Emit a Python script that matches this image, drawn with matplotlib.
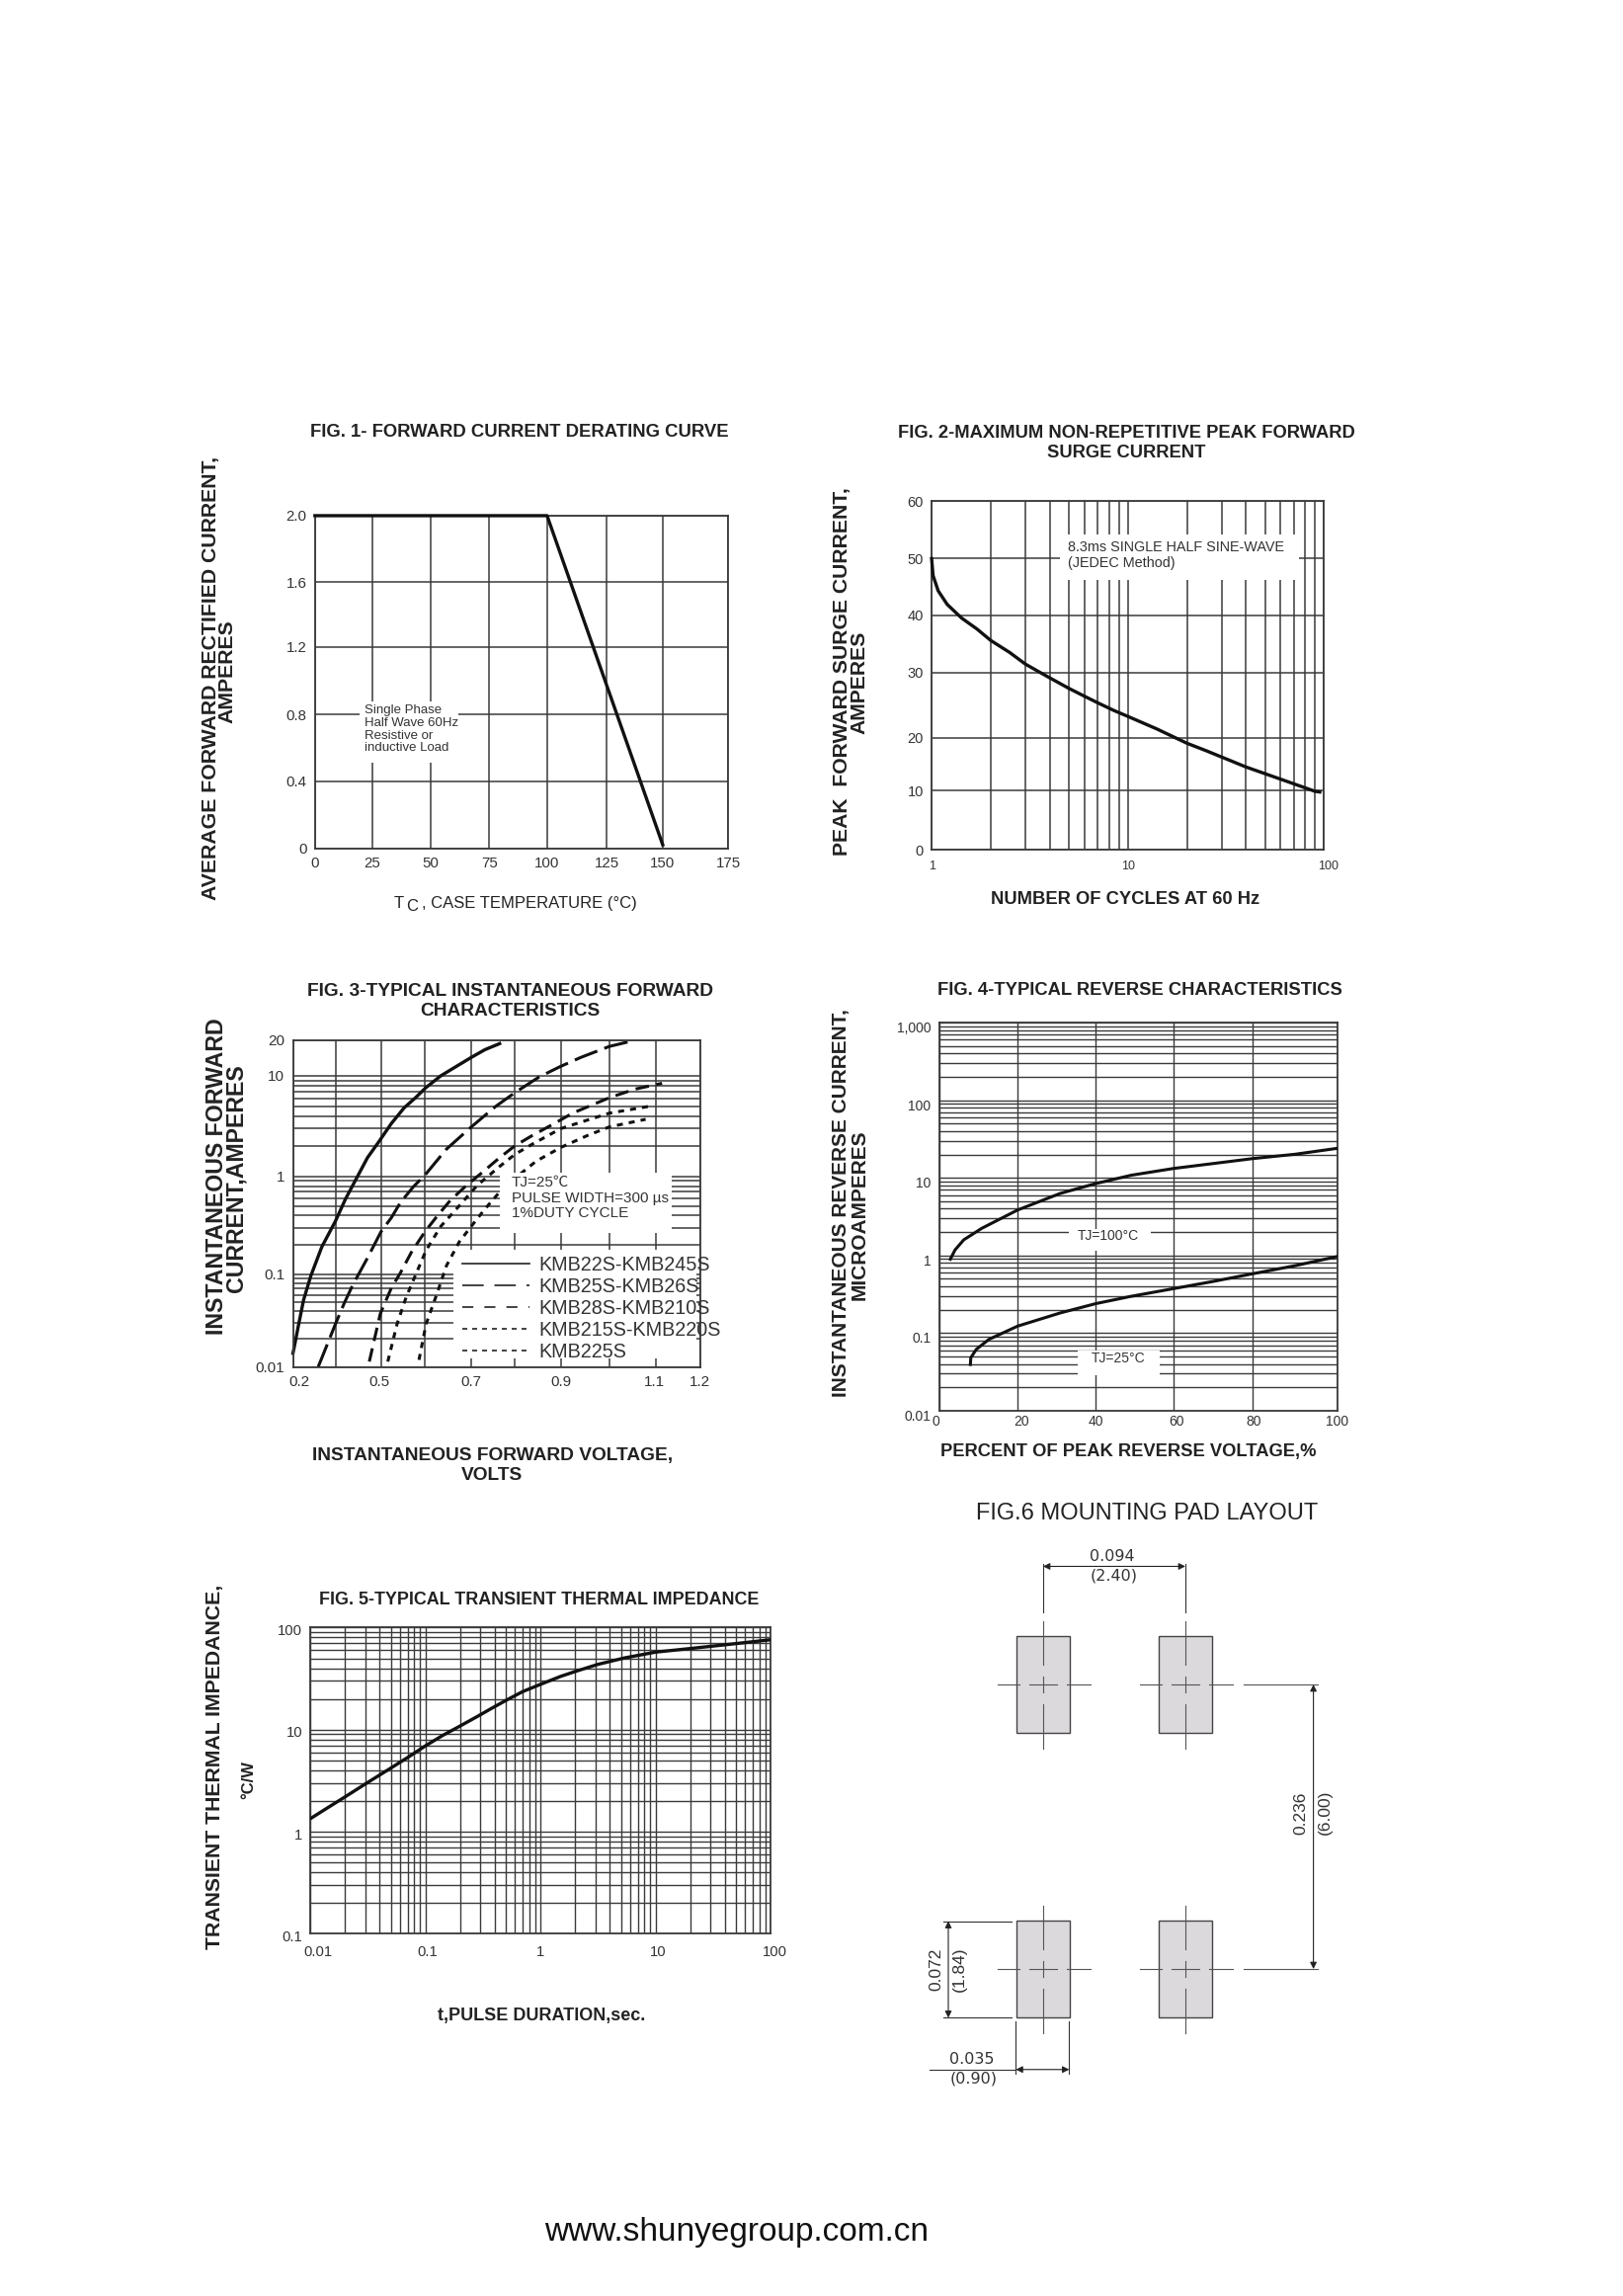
import numpy as np
import matplotlib
matplotlib.use('Agg')
import matplotlib.pyplot as plt
from matplotlib.lines import Line2D
from matplotlib.patches import Rectangle
from matplotlib.transforms import ScaledTranslation

plt.rcParams['font.family'] = ['Liberation Sans', 'Noto Sans CJK SC', 'DejaVu Sans']

W, H = 1643, 2324
S = 1643 / 1108  # layout below was measured on a 1108 wide view

INK = '#222222'
GRID = '#3a3a3a'

# fig 1
f1_x = [0, 100, 150]
f1_y = [2.0, 2.0, 0.02]
f1_xticks = [0, 25, 50, 75, 100, 125, 150, 175]
f1_xpos = [366, 517, 671, 826, 978, 1135, 1283, 1455]
f1_yticks = [0, 0.4, 0.8, 1.2, 1.6, 2.0]
f1_ypos = [1333, 1137, 941, 742, 553, 358]
f1_ylabels = ['0', '0.4', '0.8', '1.2', '1.6', '2.0']

# fig 2
f2_x = [1, 1.017, 1.08, 1.2, 1.42, 1.7, 2, 2.5, 3, 3.5, 4, 5, 6, 7, 8.5, 10, 14, 20, 25, 30, 40, 60, 90, 95]
f2_y = [50, 47, 44.3, 41.9, 39.5, 37.6, 35.6, 33.5, 31.5, 30.2, 29.2, 27.6, 26.4, 25.4, 24.2, 23.3, 21.4, 19, 17.6, 16.4, 14.5, 12.2, 9.9, 9.8]
f2_yticks = [0, 10, 20, 30, 40, 50, 60]
f2_ypos = [1340, 1166, 1010, 817, 647, 480, 310]

# fig 3
f3_xticks = [0.2, 0.4, 0.5, 0.6, 0.7, 0.8, 0.9, 1.0, 1.1, 1.2]
f3_xpos = [316, 432, 557, 677, 803, 922, 1048, 1180, 1307, 1428]
f3_xlabels = ['0.2', '', '0.5', '', '0.7', '', '0.9', '', '1.1', '1.2']
f3_yticks = [0.01, 0.1, 1, 10, 20]
f3_ypos = [1165, 895, 610, 316, 212]
f3_ylabels = ['0.01', '0.1', '1', '10', '20']
f3_a_x = [0.2, 0.21, 0.224, 0.25, 0.284, 0.336, 0.4, 0.422, 0.446, 0.47, 0.494, 0.523, 0.552, 0.578, 0.602, 0.634, 0.666, 0.7, 0.731, 0.765]
f3_a_y = [0.014, 0.0182, 0.0267, 0.0528, 0.096, 0.191, 0.35, 0.59, 0.96, 1.54, 2.19, 3.36, 4.8, 6.06, 7.66, 10, 11.9, 14.3, 16.6, 18.7]
f3_b_x = [0.319, 0.4, 0.419, 0.438, 0.469, 0.5, 0.523, 0.544, 0.573, 0.6, 0.646, 0.7, 0.756, 0.8, 0.852, 0.897, 0.941, 1.0, 1.047]
f3_b_y = [0.01, 0.029, 0.0484, 0.077, 0.144, 0.275, 0.379, 0.545, 0.785, 1.04, 1.87, 3.11, 4.97, 6.8, 9.7, 11.9, 14.3, 17.7, 19.6]
f3_c_x = [0.474, 0.498, 0.523, 0.544, 0.569, 0.6, 0.626, 0.654, 0.69, 0.723, 0.765, 0.8, 0.838, 0.886, 0.924, 1.0, 1.055, 1.114]
f3_c_y = [0.0114, 0.0375, 0.071, 0.104, 0.169, 0.275, 0.394, 0.567, 0.816, 1.08, 1.54, 2.02, 2.56, 3.37, 4.26, 6.06, 7.37, 8.42]
f3_d_x = [0.515, 0.536, 0.557, 0.582, 0.602, 0.634, 0.674, 0.714, 0.765, 0.8, 0.838, 0.9, 0.955, 1.0, 1.086]
f3_d_y = [0.0114, 0.029, 0.057, 0.108, 0.176, 0.31, 0.503, 0.816, 1.26, 1.66, 2.1, 3.0, 3.64, 4.26, 4.98]
f3_e_x = [0.586, 0.602, 0.626, 0.646, 0.674, 0.7, 0.731, 0.765, 0.8, 0.846, 0.9, 0.955, 1.0, 1.078]
f3_e_y = [0.0119, 0.029, 0.0625, 0.122, 0.215, 0.31, 0.464, 0.695, 0.96, 1.42, 1.95, 2.56, 3.11, 3.7]
f3_names = ['KMB22S-KMB245S', 'KMB25S-KMB26S', 'KMB28S-KMB210S', 'KMB215S-KMB220S', 'KMB225S']

# fig 4
f4_xticks = [0, 20, 40, 60, 80, 100]
f4_xpos = [340, 561, 781, 999, 1222, 1460]
f4_yticks = [0.01, 0.1, 1, 10, 100, 1000]
f4_ylabels = ['0.01', '0.1', '1', '10', '100', '1,000']
f4_hot_x = [2.9, 4.1, 6.3, 10.9, 20, 30.9, 40, 49.1, 60, 70.1, 80, 89.9, 100]
f4_hot_y = [0.897, 1.18, 1.59, 2.24, 3.85, 6.3, 8.45, 10.8, 13.2, 15.3, 17.7, 20.1, 24]
f4_cold_x = [8, 8.1, 9.5, 12.7, 20, 30.9, 40, 49.1, 60, 70.1, 80, 89.9, 100]
f4_cold_y = [0.0395, 0.0482, 0.0618, 0.083, 0.123, 0.182, 0.24, 0.298, 0.374, 0.464, 0.582, 0.737, 0.97]

# fig 5
f5_x = [0.0102, 0.014, 0.0199, 0.025, 0.031, 0.04, 0.0497, 0.07, 0.1, 0.14, 0.204, 0.28, 0.38, 0.52, 0.7, 1.0, 1.5, 2.1, 3.15, 5.4, 10, 20.4, 41, 100]
f5_y = [1.365, 1.71, 2.19, 2.58, 3.01, 3.6, 4.19, 5.34, 6.95, 8.74, 11.0, 13.4, 16.3, 19.8, 23.6, 27.8, 33.3, 37.8, 43.6, 50.5, 57.5, 62.5, 68, 76]
f5_xticks = [0.01, 0.1, 1, 10, 100]
f5_xlabels = ['0.01', '0.1', '1', '10', '100']
f5_yticks = [0.1, 1, 10, 100]
f5_ylabels = ['0.1', '1', '10', '100']

# fig 6, sizes in mm
pad_w = 0.90
pad_h = 2.04
pitch_x = 2.40
pitch_y = 6.00


def minors(decades):
    return [m * d for d in decades for m in range(2, 10)]


def warp(ax, axis, vals, pos, log=False):
    # the printed grids are hand drawn, so the scale follows the measured lines
    vals = np.array(vals, dtype=float)
    pos = np.array(pos, dtype=float)
    if axis == 'y':
        pos = -pos
    tv = np.log10(vals) if log else vals

    def forward(v):
        v = np.asarray(v, dtype=float)
        if log:
            v = np.log10(np.clip(v, 1e-6, None))
        return np.interp(v, tv, pos)

    def inverse(p):
        r = np.interp(p, pos, tv)
        return 10 ** r if log else r

    if axis == 'x':
        ax.set_xscale('function', functions=(forward, inverse))
        ax.set_xlim(vals[0], vals[-1])
    else:
        ax.set_yscale('function', functions=(forward, inverse))
        ax.set_ylim(vals[0], vals[-1])


def panel(l, t, r, b, fs=10.5, lw=1.1):
    ax = fig.add_axes([l * S / W, 1 - b * S / H, (r - l) * S / W, (b - t) * S / H])
    ax.set_axisbelow(True)
    ax.grid(True, which='both', color=GRID, lw=lw)
    ax.tick_params(which='both', length=0, labelsize=fs, labelcolor='#333333', pad=6)
    for sp in ax.spines.values():
        sp.set_linewidth(1.3)
        sp.set_color(GRID)
    return ax


def mask(ax, x0, y0, x1, y1, z=1):
    ax.add_patch(Rectangle((x0, y0), x1 - x0, y1 - y0, transform=ax.transAxes,
                           fc='white', ec='none', zorder=z))


def nudge(labels, dx=0, dy=0):
    # labels in the scan sit a little off their grid lines, dy is downward
    dxs = dx if isinstance(dx, (list, tuple)) else [dx] * len(labels)
    for t, d in zip(labels, dxs):
        t.set_transform(t.get_transform() + ScaledTranslation(d * S / 100, -dy * S / 100, fig.dpi_scale_trans))


def label(x, y, s, size=13.2, weight='bold', rot=0, ha='center', color=INK, **kw):
    return fig.text(x * S / W, 1 - y * S / H, s, fontsize=size, fontweight=weight, rotation=rot,
                    ha=ha, va='center', color=color, **kw)


fig = plt.figure(figsize=(W / 100, H / 100), dpi=100, facecolor='white')

# FIG 1
ax = panel(215, 352, 497, 579, fs=10.8)
warp(ax, 'x', f1_xticks, f1_xpos)
warp(ax, 'y', f1_yticks, f1_ypos)
ax.set_xticks(f1_xticks)
ax.set_yticks(f1_yticks, f1_ylabels)
ax.set_xticks([], minor=True)
ax.set_yticks([], minor=True)
ax.plot(f1_x, f1_y, color='#111111', lw=2.4, clip_on=False, zorder=3)
mask(ax, 0.109, 0.256, 0.348, 0.441)
ax.text(0.12, 0.432, 'Single Phase\nHalf Wave 60Hz\nResistive or\ninductive Load', transform=ax.transAxes,
        fontsize=9.5, color='#333333', va='top', ha='left', linespacing=1.08, zorder=4)
label(354.5, 295, 'FIG. 1- FORWARD CURRENT DERATING CURVE', size=13.3)
label(144, 463, 'AVERAGE FORWARD RECTIFIED CURRENT,', size=15.3, rot=90)
label(155, 458, 'AMPERES', size=15.3, rot=90)
label(272, 617, 'T', size=12, weight='normal')
label(281, 619, 'C', size=12, weight='normal')
label(288, 617, ', CASE TEMPERATURE (°C)', size=12, weight='normal', ha='left')

# FIG 2
ax = panel(636, 342, 904, 580, fs=9)
ax.set_xscale('log')
ax.set_xlim(1, 100)
warp(ax, 'y', f2_yticks, f2_ypos)
ax.set_xticks([1, 10, 100], ['1', '10', '100'])
ax.set_xticks(minors([1, 10]), minor=True)
ax.tick_params(axis='x', which='minor', labelbottom=False)
ax.set_yticks(f2_yticks)
ax.set_yticks([], minor=True)
ax.tick_params(axis='y', labelsize=10.5)
ax.plot(f2_x, f2_y, color='#111111', lw=2.4, clip_on=False, zorder=3)
mask(ax, 0.328, 0.774, 0.935, 0.903)
ax.text(0.348, 0.845, '8.3ms SINGLE HALF SINE-WAVE\n(JEDEC Method)', transform=ax.transAxes,
        fontsize=10.4, color='#333333', va='center', ha='left', linespacing=1.2, zorder=4)
nudge(ax.get_xticklabels(), dx=[0, 0, 3], dy=1.5)
label(769, 296, 'FIG. 2-MAXIMUM NON-REPETITIVE PEAK FORWARD', size=13.2)
label(769, 309, 'SURGE CURRENT', size=13.2)
label(575, 458, 'PEAK  FORWARD SURGE CURRENT,', size=15.2, rot=90)
label(587, 466, 'AMPERES', size=15.2, rot=90)
label(768, 614, 'NUMBER OF CYCLES AT 60 Hz', size=13.2)

# FIG 3
ax = panel(200, 710, 478, 933, fs=11)
warp(ax, 'x', f3_xticks, f3_xpos)
warp(ax, 'y', f3_yticks, f3_ypos, log=True)
ax.set_xticks(f3_xticks, f3_xlabels)
ax.set_xticks([], minor=True)
ax.set_yticks(f3_yticks, f3_ylabels)
ax.set_yticks(minors([0.01, 0.1, 1]), minor=True)
ax.tick_params(axis='y', which='minor', labelleft=False)
mask(ax, 0.395, 0.026, 0.99, 0.357)
ax.plot(f3_a_x, f3_a_y, color='#111111', lw=2.4, clip_on=False, zorder=2)
ax.plot(f3_b_x, f3_b_y, color='#111111', lw=2.2, dashes=(8, 2.5), zorder=2)
ax.plot(f3_c_x, f3_c_y, color='#111111', lw=2.2, dashes=(4.5, 2.5), zorder=2)
ax.plot(f3_d_x, f3_d_y, color='#111111', lw=2.2, dashes=(2, 2), zorder=2)
ax.plot(f3_e_x, f3_e_y, color='#111111', lw=2.2, dashes=(2, 2), zorder=2)
mask(ax, 0.509, 0.409, 0.93, 0.593, z=3)
ax.text(0.536, 0.585, 'TJ=25℃\nPULSE WIDTH=300 µs\n1%DUTY CYCLE', transform=ax.transAxes,
        fontsize=11, color='#333333', va='top', ha='left', linespacing=1.15, zorder=4)
handles = [Line2D([], [], color='#222222', lw=1.2),
           Line2D([], [], color='#222222', lw=1.2, dashes=(13, 6.5)),
           Line2D([], [], color='#222222', lw=1.2, dashes=(6.7, 6.7)),
           Line2D([], [], color='#222222', lw=1.2, dashes=(3, 3)),
           Line2D([], [], color='#222222', lw=1.2, dashes=(3, 3))]
leg = ax.legend(handles, f3_names, loc='upper left', bbox_to_anchor=(0.417, 0.341), frameon=False, fontsize=14.2,
                handlelength=3.4, handletextpad=0.5, borderpad=0, borderaxespad=0, labelspacing=0.15, labelcolor='#333333')
nudge(ax.get_xticklabels(), dx=[4, 0, -1, 0, 0, 0, 0, 0, -1, 0])
label(348.5, 677, 'FIG. 3-TYPICAL INSTANTANEOUS FORWARD', size=13.8)
label(348.5, 690, 'CHARACTERISTICS', size=13.8)
label(148, 803, 'INSTANTANEOUS FORWARD', size=16.7, rot=90)
label(161, 804, 'CURRENT,AMPERES', size=16.7, rot=90)
label(336, 994, 'INSTANTANEOUS FORWARD VOLTAGE,', size=13.8)
label(336, 1007, 'VOLTS', size=13.8)

# FIG 4
ax = panel(641, 698, 913, 963, fs=10, lw=1.0)
warp(ax, 'x', f4_xticks, f4_xpos)
ax.set_yscale('log')
ax.set_ylim(0.01, 1000)
ax.set_xticks(f4_xticks)
ax.set_xticks([], minor=True)
ax.set_yticks(f4_yticks, f4_ylabels)
ax.set_yticks(minors([0.01, 0.1, 1, 10, 100]), minor=True)
ax.tick_params(axis='y', which='minor', labelleft=False)
ax.plot(f4_hot_x, f4_hot_y, color='#111111', lw=2.2, zorder=3)
ax.plot(f4_cold_x, f4_cold_y, color='#111111', lw=2.2, zorder=3)
mask(ax, 0.326, 0.412, 0.531, 0.468)
mask(ax, 0.348, 0.0915, 0.554, 0.156)
ax.text(0.424, 0.45, 'TJ=100°C', transform=ax.transAxes, fontsize=10, color='#333333', va='center', ha='center', zorder=4)
ax.text(0.449, 0.135, 'TJ=25°C', transform=ax.transAxes, fontsize=10, color='#333333', va='center', ha='center', zorder=4)
nudge(ax.get_yticklabels(), dy=3)
nudge(ax.get_xticklabels(), dx=[-2, 3, 0, 2, 1, 0], dy=-3)
label(778, 676, 'FIG. 4-TYPICAL REVERSE CHARACTERISTICS', size=13.2)
label(574, 821, 'INSTANTANEOUS REVERSE CURRENT,', size=15, rot=90)
label(587, 829, 'MICROAMPERES', size=15, rot=90)
label(770, 991, 'PERCENT OF PEAK REVERSE VOLTAGE,%', size=13.2)

# FIG 5
ax = panel(212, 1111, 526, 1320, fs=10.6, lw=1.0)
ax.set_xscale('log')
ax.set_yscale('log')
ax.set_xlim(0.01, 100)
ax.set_ylim(0.1, 100)
ax.set_xticks(f5_xticks, f5_xlabels)
ax.set_xticks(minors([0.01, 0.1, 1, 10]), minor=True)
ax.set_yticks(f5_yticks, f5_ylabels)
ax.set_yticks(minors([0.1, 1, 10]), minor=True)
ax.tick_params(which='minor', labelbottom=False, labelleft=False)
ax.plot(f5_x, f5_y, color='#111111', lw=2.4, zorder=3)
nudge(ax.get_xticklabels(), dx=[5, 1, 0, 2, 3], dy=2)
nudge(ax.get_yticklabels(), dy=1.5)
label(368, 1092, 'FIG. 5-TYPICAL TRANSIENT THERMAL IMPEDANCE', size=12.85)
label(147, 1206, 'TRANSIENT THERMAL IMPEDANCE,', size=15.3, rot=90)
label(170, 1215, '°C/W', size=12, rot=90)
label(370, 1376, 't,PULSE DURATION,sec.', size=13)

# FIG 6
label(783, 1033, 'FIG.6 MOUNTING PAD LAYOUT', size=17, weight='normal')
ax = fig.add_axes([936 / W, 1 - 2127.4 / H, 450 / W, 576 / H])
ax.set_xlim(-2, 5.5)
ax.set_ylim(8.8, -3.2)
ax.axis('off')
centres = [(0, 0), (pitch_x, 0), (0, pitch_y), (pitch_x, pitch_y)]
for cx, cy in centres:
    ax.add_patch(Rectangle((cx - pad_w / 2, cy - pad_h / 2), pad_w, pad_h, fc='#dcd9dc', ec='#444444', lw=1.0))
    for a, b in [(-1.34, -0.41), (-0.16, 0.16), (0.41, 1.35)]:
        ax.plot([cx, cx], [cy + a, cy + b], color='#555555', lw=0.8)
    for a, b in [(-0.76, -0.40), (-0.24, 0.24), (0.40, 0.80)]:
        ax.plot([cx + a, cx + b], [cy, cy], color='#555555', lw=0.8)
for cy in (0, pitch_y):
    ax.plot([3.39, 4.64], [cy, cy], color='#555555', lw=0.8)

dim = dict(arrowstyle='<|-|>', color='#222222', lw=0.8, mutation_scale=10, shrinkA=0, shrinkB=0)
ax.plot([0, 0], [-2.55, -1.52], color='#333333', lw=0.8)
ax.plot([pitch_x, pitch_x], [-2.55, -1.52], color='#333333', lw=0.8)
ax.annotate('', (pitch_x, -2.49), (0, -2.49), arrowprops=dim)
ax.annotate('', (4.56, pitch_y), (4.56, 0), arrowprops=dim)
ax.plot([-1.68, -0.54], [4.99, 4.99], color='#333333', lw=0.8)
ax.plot([-1.68, -0.54], [7.03, 7.03], color='#333333', lw=0.8)
ax.annotate('', (-1.6, 7.03), (-1.6, 4.99), arrowprops=dim)
ax.plot([-0.46, -0.46], [7.1, 8.21], color='#333333', lw=0.8)
ax.plot([0.44, 0.44], [7.1, 8.21], color='#333333', lw=0.8)
ax.plot([-1.92, -0.46], [8.12, 8.12], color='#333333', lw=0.8)
ax.annotate('', (0.44, 8.12), (-0.46, 8.12), arrowprops=dim)

# the pad drawing is stretched sideways in the source, horizontal numbers run wide
num = dict(fontsize=11.5, color='#333333', ha='center', va='center', family='DejaVu Sans')
numv = dict(fontsize=12.5, color='#333333', ha='center', va='center', rotation=90)
ax.text(1.17, -2.69, '0.094', **num)
ax.text(1.2, -2.30, '(2.40)', **num)
ax.text(4.35, 2.71, '0.236', **numv)
ax.text(4.75, 2.7, '(6.00)', **numv)
ax.text(-1.8, 6.0, '0.072', **numv)
ax.text(-1.41, 6.0, '(1.84)', **numv)
ax.text(-1.21, 7.9, '0.035', **num)
ax.text(-1.18, 8.31, '(0.90)', **num)

label(503, 1524, 'www.shunyegroup.com.cn', size=24, weight='normal', color='#111111')

fig.savefig('out.png', dpi=100)
